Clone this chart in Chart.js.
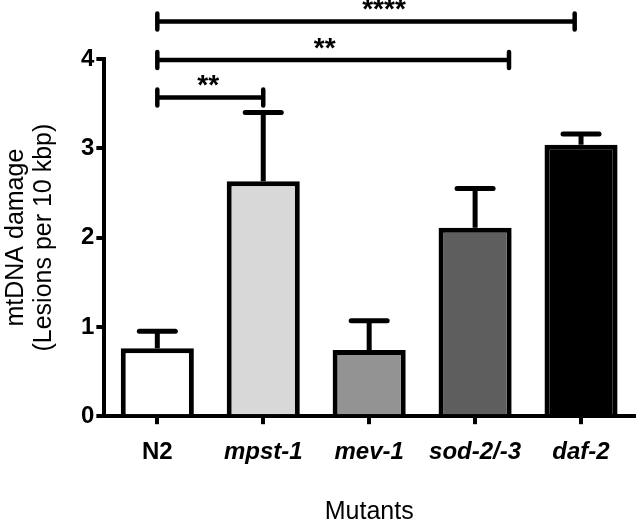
<!DOCTYPE html>
<html>
<head>
<meta charset="utf-8">
<script src="https://cdn.jsdelivr.net/npm/chart.js@4"></script>
<style>
  body { margin: 0; background: #fff; }
  #wrap { width: 638px; height: 525px; }
</style>
</head>
<body>
<div id="wrap"><canvas id="damage"></canvas></div>
<script>
// mtDNA damage per strain
const strains = ['N2', 'mpst-1', 'mev-1', 'sod-2/-3', 'daf-2'];
const lesions = [0.76, 2.63, 0.74, 2.11, 3.04];
const sem = [0.19, 0.77, 0.33, 0.44, 0.12];
const barColors = ['#ffffff', '#d8d8d8', '#939393', '#5e5e5e', '#000000'];
const yTicks = [0, 1, 2, 3, 4];

// significance brackets (category index units / y units)
const bracketFrom = [0, 0, 0];
const bracketTo = [3.94, 3.32, 1];
const bracketLevel = [4.42, 3.99, 3.57];
const bracketStarAt = [2.14, 1.58, 0.48];
const bracketLabel = ['****', '**', '**'];

const FONT = 'Liberation Sans, Arial, sans-serif';

// Error bars (upper only)
const errorBars = {
    id: 'errorBars',
    afterDatasetsDraw(chart) {
        const { ctx, scales: { x, y } } = chart;
        ctx.save();
        ctx.strokeStyle = '#000';
        ctx.lineWidth = 5;
        lesions.forEach((v, i) => {
            const px = x.getPixelForValue(i);
            const y0 = y.getPixelForValue(v);
            const y1 = y.getPixelForValue(v + sem[i]);
            ctx.lineCap = 'butt';
            ctx.beginPath();
            ctx.moveTo(px, y0);
            ctx.lineTo(px, y1);
            ctx.stroke();
            ctx.lineCap = 'round';
            ctx.beginPath();
            ctx.moveTo(px - 18, y1);
            ctx.lineTo(px + 18, y1);
            ctx.stroke();
        });
        ctx.restore();
    }
};

// Significance brackets
const brackets = {
    id: 'brackets',
    afterDraw(chart) {
        const { ctx, scales: { x, y } } = chart;
        ctx.save();
        ctx.strokeStyle = '#000';
        ctx.fillStyle = '#000';
        ctx.lineWidth = 4.5;
        ctx.lineCap = 'round';
        ctx.font = 'bold 28px ' + FONT;
        ctx.textAlign = 'center';
        ctx.textBaseline = 'middle';
        bracketLabel.forEach((lab, i) => {
            const xa = x.getPixelForValue(bracketFrom[i]);
            const xb = x.getPixelForValue(bracketTo[i]);
            const py = y.getPixelForValue(bracketLevel[i]);
            ctx.beginPath();
            ctx.moveTo(xa, py);
            ctx.lineTo(xb, py);
            ctx.moveTo(xa, py - 8);
            ctx.lineTo(xa, py + 8);
            ctx.moveTo(xb, py - 8);
            ctx.lineTo(xb, py + 8);
            ctx.stroke();
            ctx.fillText(lab, x.getPixelForValue(bracketStarAt[i]), py - 11);
        });
        ctx.restore();
    }
};

Chart.defaults.font.family = FONT;
Chart.defaults.color = '#000';

new Chart('damage', {
    type: 'bar',
    data: {
        labels: strains,
        datasets: [{
            data: lesions,
            backgroundColor: barColors,
            borderColor: '#000',
            borderWidth: 5,
            barPercentage: 0.69,
            categoryPercentage: 1
        }]
    },
    options: {
        responsive: true,
        maintainAspectRatio: false,
        animation: false,
        layout: { padding: { top: 59, right: 4, left: 2, bottom: 0 } },
        plugins: {
            legend: { display: false },
            tooltip: { enabled: false }
        },
        scales: {
            x: {
                grid: {
                    offset: false,
                    drawOnChartArea: false,
                    drawTicks: true,
                    tickLength: 8,
                    lineWidth: 4,
                    color: '#000'
                },
                border: { display: true, width: 4, color: '#000' },
                ticks: {
                    padding: 14,
                    font: (c) => ({
                        size: 24,
                        weight: 'bold',
                        style: c.index === 0 ? 'normal' : 'italic'
                    })
                },
                title: {
                    display: true,
                    text: 'Mutants',
                    font: { size: 25, lineHeight: 1.0 },
                    padding: { top: 19, bottom: 0 }
                }
            },
            y: {
                min: 0,
                max: 4,
                afterBuildTicks: (s) => { s.ticks = yTicks.map(v => ({ value: v })); },
                grid: {
                    drawOnChartArea: false,
                    drawTicks: true,
                    tickLength: 8,
                    lineWidth: 4,
                    color: '#000'
                },
                border: { display: true, width: 4, color: '#000' },
                ticks: {
                    padding: 2,
                    font: { size: 24, weight: 'bold' }
                },
                title: {
                    display: true,
                    text: ['mtDNA damage', '(Lesions per 10 kbp)'],
                    font: { size: 25, lineHeight: 1.12 },
                    padding: { top: 0, bottom: 21 }
                }
            }
        }
    },
    plugins: [errorBars, brackets]
});
</script>
</body>
</html>
